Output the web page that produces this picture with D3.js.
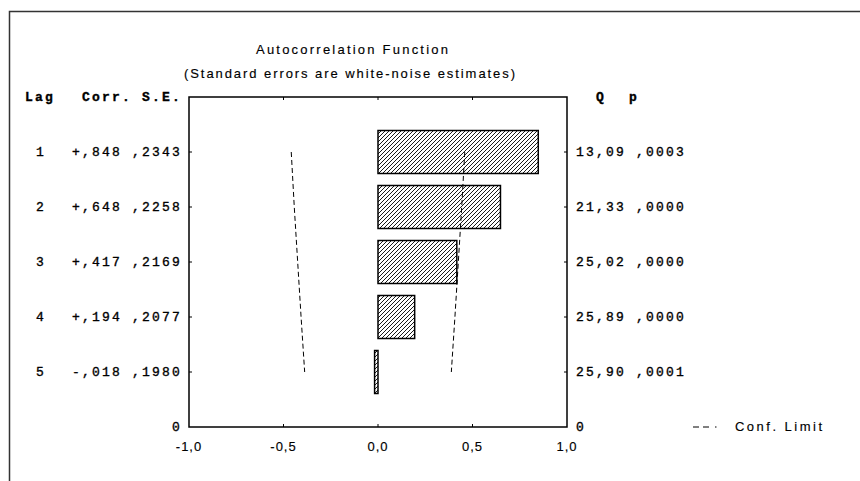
<!DOCTYPE html>
<html>
<head>
<meta charset="utf-8">
<script src="https://cdn.jsdelivr.net/npm/d3@7/dist/d3.min.js"></script>
<style>
  body{margin:0;background:#fff}
  .mono{font-family:"Liberation Mono","DejaVu Sans Mono",monospace;font-size:13px;letter-spacing:2.2px;fill:#000;stroke:#000;stroke-width:0.35px}
  .sans{font-family:"Liberation Sans",Arial,sans-serif;font-size:13px;fill:#000;stroke:#000;stroke-width:0.15px}
</style>
</head>
<body>
<svg></svg>
<script>
// ACF table values
var lags = [1, 2, 3, 4, 5]
var corr = [0.848, 0.648, 0.417, 0.194, -0.018]
var stdErr = [0.2343, 0.2258, 0.2169, 0.2077, 0.1980]
var qStat = [13.09, 21.33, 25.02, 25.89, 25.90]
var pVal = [0.0003, 0.0000, 0.0000, 0.0000, 0.0001]
var confLimit = [0.459, 0.443, 0.425, 0.407, 0.388]
var xTicks = [-1, -0.5, 0, 0.5, 1]

var svg = d3.select("svg").attr("width", 860).attr("height", 481)

var x = d3.scaleLinear().domain([-1, 1]).range([189, 567])
var y = d3.scaleLinear().domain([0, 6]).range([97, 427])
var barH = 43

// comma decimals, no leading zero
function dec(v, n){ return d3.format("." + n + "f")(Math.abs(v)).replace(/^0/, "").replace(".", ",") }
function signed(v){ return (v < 0 ? "-" : "+") + dec(v, 3) }

// outer frame
svg.append("path").attr("d", "M9.5,490V11.5H870").attr("fill", "none").attr("stroke", "#333").attr("stroke-width", 1.5)

var defs = svg.append("defs")
defs.append("pattern").attr("id", "hatch").attr("patternUnits", "userSpaceOnUse")
    .attr("width", 4).attr("height", 4)
  .append("path").attr("d", "M-1,1l2,-2M0,4l4,-4M3,5l2,-2")
    .attr("stroke", "#000").attr("stroke-width", 0.9)

// titles
svg.append("text").attr("class", "sans").attr("x", 256).attr("y", 54)
   .attr("textLength", 192).attr("lengthAdjust", "spacing").text("Autocorrelation Function")
svg.append("text").attr("class", "sans").attr("x", 184).attr("y", 78)
   .attr("textLength", 331).attr("lengthAdjust", "spacing").text("(Standard errors are white-noise estimates)")

// column headers
svg.append("text").attr("class", "mono").attr("x", 25).attr("y", 101).style("font-weight", "bold").text("Lag")
svg.append("text").attr("class", "mono").attr("x", 82).attr("y", 101).style("font-weight", "bold").text("Corr. S.E.")
svg.append("text").attr("class", "mono").attr("x", 596).attr("y", 101).style("font-weight", "bold").text("Q")
svg.append("text").attr("class", "mono").attr("x", 629).attr("y", 101).style("font-weight", "bold").text("p")

// bars
svg.selectAll("rect.bar").data(lags).enter().append("rect").attr("class", "bar")
   .attr("x", (d, i) => Math.min(x(0), x(corr[i])))
   .attr("width", (d, i) => Math.abs(x(corr[i]) - x(0)))
   .attr("y", d => y(d) - barH / 2)
   .attr("height", barH)
   .attr("fill", "url(#hatch)")
   .attr("stroke", "#000").attr("stroke-width", 1.5)

// confidence limits
var line = d3.line()
svg.append("path").attr("d", line(lags.map((d, i) => [x(-confLimit[i]), y(d)])))
   .attr("fill", "none").attr("stroke", "#000").attr("stroke-dasharray", "5,3")
svg.append("path").attr("d", line(lags.map((d, i) => [x(confLimit[i]), y(d)])))
   .attr("fill", "none").attr("stroke", "#000").attr("stroke-dasharray", "5,3")

// plot box
svg.append("rect").attr("x", 189).attr("y", 97).attr("width", 378).attr("height", 330)
   .attr("fill", "none").attr("stroke", "#000").attr("stroke-width", 1.5)

// x ticks inside, top and bottom
svg.selectAll("line.xt").data(xTicks.slice(1, -1)).enter().append("line")
   .attr("x1", d => x(d)).attr("x2", d => x(d)).attr("y1", 97).attr("y2", 100).attr("stroke", "#000")
svg.selectAll("line.xb").data(xTicks.slice(1, -1)).enter().append("line")
   .attr("x1", d => x(d)).attr("x2", d => x(d)).attr("y1", 427).attr("y2", 424).attr("stroke", "#000")
svg.selectAll("text.xl").data(xTicks).enter().append("text").attr("class", "sans")
   .attr("x", d => x(d)).attr("y", 451).attr("text-anchor", "middle").style("letter-spacing", "1px")
   .text(d => d3.format(".1f")(d).replace("−", "-").replace(".", ","))

// y ticks inside, left and right
svg.selectAll("line.yl").data(lags).enter().append("line")
   .attr("x1", 189).attr("x2", 192).attr("y1", d => y(d)).attr("y2", d => y(d)).attr("stroke", "#000")
svg.selectAll("line.yr").data(lags).enter().append("line")
   .attr("x1", 567).attr("x2", 564).attr("y1", d => y(d)).attr("y2", d => y(d)).attr("stroke", "#000")

// left and right tables
var rows = svg.selectAll("g.row").data(lags).enter().append("g")
rows.append("text").attr("class", "mono").attr("x", 36).attr("y", d => y(d) + 4).text(d => d)
rows.append("text").attr("class", "mono").attr("x", 72).attr("y", d => y(d) + 4)
    .text((d, i) => signed(corr[i]) + " " + dec(stdErr[i], 4))
rows.append("text").attr("class", "mono").attr("x", 576).attr("y", d => y(d) + 4)
    .text((d, i) => d3.format(".2f")(qStat[i]).replace(".", ",") + " " + dec(pVal[i], 4))
svg.append("text").attr("class", "mono").attr("x", 172).attr("y", 431).text("0")
svg.append("text").attr("class", "mono").attr("x", 576).attr("y", 431).text("0")

// legend
svg.append("line").attr("x1", 693).attr("x2", 721).attr("y1", 427).attr("y2", 427)
   .attr("stroke", "#000").attr("stroke-dasharray", "6,4,6,6,1.5,10")
svg.append("text").attr("class", "sans").attr("x", 735).attr("y", 431)
   .attr("textLength", 87).attr("lengthAdjust", "spacing").text("Conf. Limit")
</script>
</body>
</html>
